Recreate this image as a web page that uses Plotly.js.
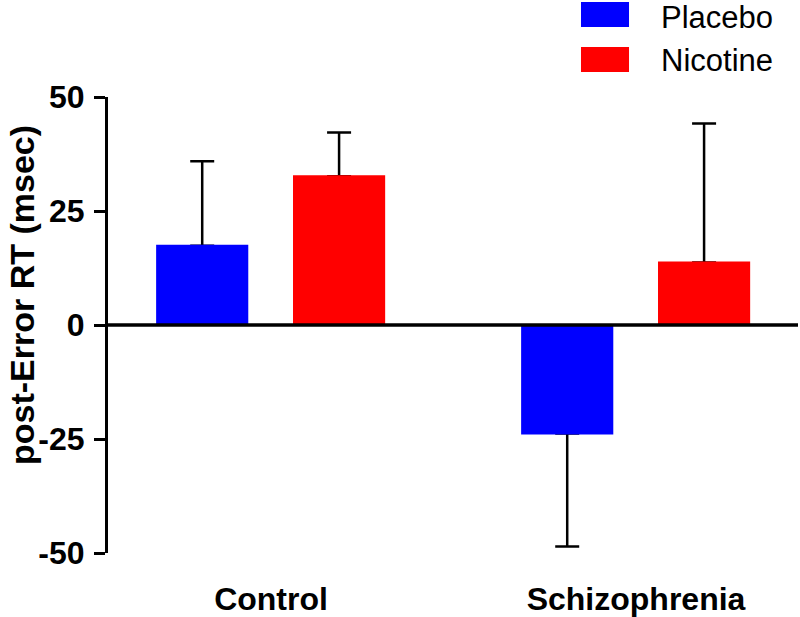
<!DOCTYPE html>
<html>
<head>
<meta charset="utf-8">
<script src="https://cdn.plot.ly/plotly-3.0.1.min.js"></script>
<style>html,body{margin:0;padding:0;background:#fff}#chart{width:800px;height:617px}</style>
</head>
<body>
<div id="chart"></div>
<script>
// ---- data ----
const categories = ['Control', 'Schizophrenia'];
const seriesNames = ['Placebo', 'Nicotine'];
const placebo = [17.4, -23.8];
const placeboErrUp = [18.5, 0];
const placeboErrDown = [0, 24.8];
const nicotine = [32.6, 13.7];
const nicotineErrUp = [9.6, 30.5];
const nicotineErrDown = [0, 0];
const yTicks = [-50, -25, 0, 25, 50];
const yTitle = 'post-Error RT (msec)';

// ---- styling ----
const colors = ['#0000FF', '#FF0000'];
const barWidth = 0.247;
const offsets = [-0.312, 0.063];
const FONT = 'Liberation Sans, Arial, sans-serif';

function mainTrace(i, y, up, down) {
  return {
    type: 'bar', x: categories, y: y, name: seriesNames[i],
    width: barWidth, offset: offsets[i],
    marker: {color: colors[i], line: {width: 0}},
    error_y: {type: 'data', symmetric: false, array: up, arrayminus: down,
              color: '#000', thickness: 2.5, width: 12},
    showlegend: false, hoverinfo: 'skip'
  };
}
function coverTrace(i, y) {
  return {
    type: 'bar', x: categories, y: y, name: seriesNames[i],
    width: barWidth, offset: offsets[i],
    marker: {color: colors[i], line: {width: 2, color: colors[i]}},
    showlegend: false, hoverinfo: 'skip'
  };
}

const data = [
  mainTrace(0, placebo, placeboErrUp, placeboErrDown),
  mainTrace(1, nicotine, nicotineErrUp, nicotineErrDown),
  coverTrace(0, placebo),
  coverTrace(1, nicotine)
];

// legend drawn as shapes + annotations (large swatches)
const legendRows = [
  {y0: 1.1535, y1: 1.2083, ty: 1.1745},
  {y0: 1.0548, y1: 1.1096, ty: 1.0802}
];
const shapes = [
  {type: 'line', xref: 'paper', yref: 'y', x0: 0, x1: 1, y0: 0, y1: 0,
   line: {color: '#000', width: 3.5}, layer: 'above'}
];
const annotations = [];
seriesNames.forEach((n, i) => {
  shapes.push({type: 'rect', xref: 'paper', yref: 'paper',
    x0: 0.6855, x1: 0.7551, y0: legendRows[i].y0, y1: legendRows[i].y1,
    fillcolor: colors[i], line: {width: 0}});
  annotations.push({xref: 'paper', yref: 'paper', x: 0.7986, y: legendRows[i].ty,
    xanchor: 'left', yanchor: 'middle', showarrow: false, text: n,
    font: {family: FONT, size: 31, color: '#000'}});
});
// y-axis title (placed as rotated text, centred where the reference shows it)
annotations.push({xref: 'paper', yref: 'paper', x: -0.1246, y: 0.5658,
  xanchor: 'center', yanchor: 'middle', textangle: -90, showarrow: false,
  text: yTitle, font: {family: FONT, size: 34, color: '#000', weight: 'bold'}});

const layout = {
  width: 800, height: 617,
  margin: {l: 108, r: 2, t: 97, b: 64, pad: 0},
  paper_bgcolor: '#fff', plot_bgcolor: '#fff',
  barmode: 'overlay',
  showlegend: false,
  xaxis: {
    type: 'category', range: [-0.4466, 1.4438],
    showline: false, showgrid: false, zeroline: false, ticks: '',
    ticklabelstandoff: 24,
    tickfont: {family: FONT, size: 32, color: '#000', weight: 'bold'},
    fixedrange: true
  },
  yaxis: {
    range: [-50, 50], tickvals: yTicks, ticktext: yTicks.map(String),
    showline: true, linecolor: '#000', linewidth: 3,
    ticks: 'outside', ticklen: 11, tickwidth: 3, tickcolor: '#000',
    showgrid: false, zeroline: false, ticklabelstandoff: 3,
    tickfont: {family: FONT, size: 32, color: '#000', weight: 'bold'},
    fixedrange: true
  },
  shapes: shapes,
  annotations: annotations
};

Plotly.newPlot('chart', data, layout, {displayModeBar: false, staticPlot: true});
</script>
</body>
</html>
